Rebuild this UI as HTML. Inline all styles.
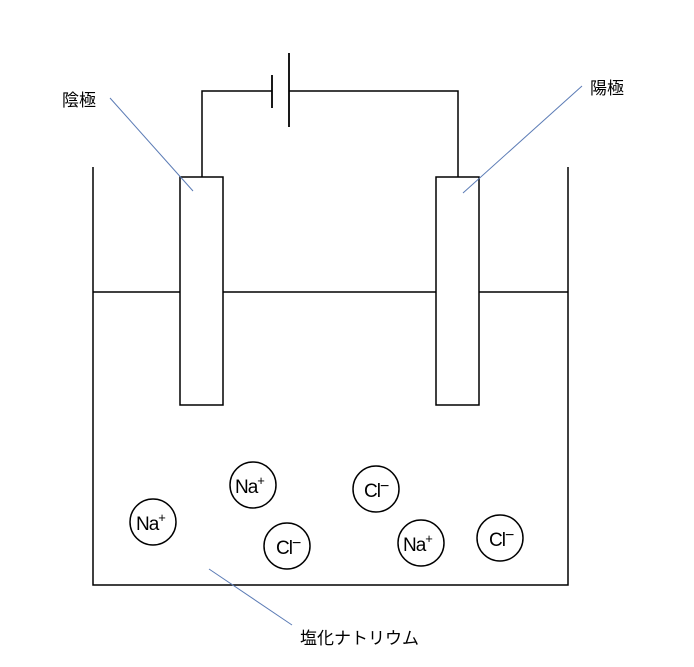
<!DOCTYPE html>
<html><head><meta charset="utf-8"><style>
html,body{margin:0;padding:0;background:#fff;width:694px;height:667px;overflow:hidden}
svg text{font-family:"Liberation Sans","Noto Sans CJK JP",sans-serif;fill:#000}
</style></head><body>
<svg width="694" height="667" viewBox="0 0 694 667" xmlns="http://www.w3.org/2000/svg">
<g stroke="#000" stroke-width="1.5" fill="none">
<polyline points="202,177 202,91 272,91"/>
<polyline points="289,91 458,91 458,177"/>
<line x1="272" y1="75" x2="272" y2="108" stroke-width="1.8"/>
<line x1="289" y1="53" x2="289" y2="127" stroke-width="1.8"/>
<polyline points="93,167 93,585 568,585 568,167"/>
<line x1="93" y1="292" x2="180" y2="292"/>
<line x1="223" y1="292" x2="436" y2="292"/>
<line x1="479" y1="292" x2="568" y2="292"/>
<rect x="180" y="177" width="43" height="228" fill="#fff"/>
<rect x="436" y="177" width="43" height="228" fill="#fff"/>
<circle cx="153" cy="522" r="23"/>
<circle cx="253" cy="485" r="23"/>
<circle cx="287" cy="546" r="23"/>
<circle cx="376" cy="489" r="23"/>
<circle cx="421" cy="543" r="23"/>
<circle cx="500" cy="538" r="23"/>
</g>
<g stroke="#5b7bb5" stroke-width="1">
<line x1="110" y1="98" x2="193" y2="191"/>
<line x1="582" y1="86" x2="463" y2="193"/>
<line x1="209" y1="569" x2="292" y2="625"/>
</g>
<text x="62" y="106" font-size="17">陰極</text>
<text x="590" y="94" font-size="17">陽極</text>
<text x="300" y="644" font-size="17">塩化ナトリウム</text>
<g font-size="19" letter-spacing="-1">
<text x="136" y="530">Na<tspan font-size="13" dy="-8">+</tspan></text>
<text x="235" y="493">Na<tspan font-size="13" dy="-8">+</tspan></text>
<text x="403" y="551">Na<tspan font-size="13" dy="-8">+</tspan></text>
<text x="276" y="554">Cl<tspan font-size="16" dy="-6">−</tspan></text>
<text x="364" y="497">Cl<tspan font-size="16" dy="-6">−</tspan></text>
<text x="489" y="546">Cl<tspan font-size="16" dy="-6">−</tspan></text>
</g>
</svg>
</body></html>
